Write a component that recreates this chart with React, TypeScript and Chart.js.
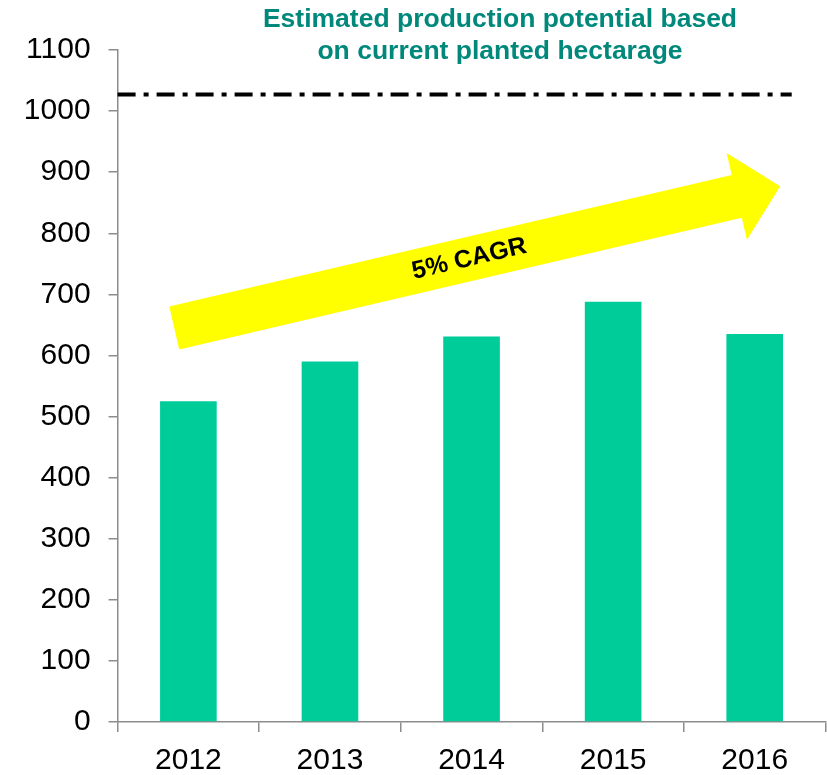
import React, { useEffect, useRef } from 'react';
import { Chart, registerables } from 'chart.js';

Chart.register(...registerables);

// ---- data ----
const categories = ['2012', '2013', '2014', '2015', '2016'];
const production = [525, 590, 631, 688, 635];
const potentialLevel = 1027;
const yMin = 0;
const yMax = 1100;
const yStep = 100;
const titleLines = ['Estimated production potential based', 'on current planted hectarage'];
const cagrLabel = '5% CAGR';
// arrow anchored in data space: [category index, value]
const arrowStart = [-0.1, 645];
const arrowEnd = [4.18, 877];

const FONT = "'Liberation Sans', Arial, sans-serif";

const overlay = {
  id: 'overlay',
  afterDatasetsDraw(chart: any) {
    const { ctx, chartArea, scales } = chart;
    const x = scales.x;
    const y = scales.y;
    ctx.save();
    // dash-dot potential line
    const yy = y.getPixelForValue(potentialLevel);
    ctx.strokeStyle = '#000000';
    ctx.lineWidth = 4;
    ctx.setLineDash([18, 8, 5, 8]);
    ctx.beginPath();
    ctx.moveTo(chartArea.left, yy);
    ctx.lineTo(x.getPixelForValue(categories.length - 1) + 37, yy);
    ctx.stroke();
    ctx.setLineDash([]);

    // CAGR arrow
    const x0 = x.getPixelForValue(arrowStart[0]);
    const y0 = y.getPixelForValue(arrowStart[1]);
    const x1 = x.getPixelForValue(arrowEnd[0]);
    const y1 = y.getPixelForValue(arrowEnd[1]);
    const ang = Math.atan2(y1 - y0, x1 - x0);
    const L = Math.hypot(x1 - x0, y1 - y0);
    const sh = 22;
    const hh = 44.5;
    const hl = 44.6;
    ctx.translate(x0, y0);
    ctx.rotate(ang);
    ctx.fillStyle = '#FFFF00';
    ctx.beginPath();
    ctx.moveTo(0, -sh);
    ctx.lineTo(L - hl, -sh);
    ctx.lineTo(L - hl, -hh);
    ctx.lineTo(L, 0);
    ctx.lineTo(L - hl, hh);
    ctx.lineTo(L - hl, sh);
    ctx.lineTo(0, sh);
    ctx.closePath();
    ctx.fill();
    ctx.fillStyle = '#000000';
    ctx.font = `bold 25px ${FONT}`;
    ctx.textAlign = 'center';
    ctx.textBaseline = 'middle';
    ctx.fillText(cagrLabel, L * 0.487, 0);
    ctx.restore();
  },
  afterDraw(chart: any) {
    const { ctx } = chart;
    ctx.save();
    ctx.fillStyle = '#00897B';
    ctx.font = `bold 26.5px ${FONT}`;
    ctx.textAlign = 'center';
    ctx.textBaseline = 'middle';
    titleLines.forEach((t, i) => ctx.fillText(t, 500, 20 + i * 32));
    ctx.restore();
  },
};

export default function App() {
  const ref = useRef<HTMLCanvasElement>(null);
  useEffect(() => {
    if (!ref.current) return;
    const axisColor = '#8c8c8c';
    const chart = new Chart(ref.current, {
      type: 'bar',
      data: {
        labels: categories,
        datasets: [
          {
            data: production,
            backgroundColor: '#00CC99',
            borderWidth: 0,
            categoryPercentage: 1,
            barPercentage: 0.4,
          },
        ],
      },
      options: {
        responsive: false,
        animation: false,
        devicePixelRatio: 1,
        layout: { padding: { top: 50, right: 1.5, left: 0, bottom: 0 } },
        plugins: { legend: { display: false }, tooltip: { enabled: false }, title: { display: false } },
        scales: {
          x: {
            grid: {
              display: true,
              drawOnChartArea: false,
              drawTicks: true,
              tickLength: 10,
              color: axisColor,
              lineWidth: 1.5,
              offset: true,
            },
            border: { color: axisColor, width: 1.5 },
            ticks: { font: { family: FONT, size: 30 }, color: '#000000', padding: 11 },
            afterFit: (s: any) => {
              s.height = 53;
            },
          },
          y: {
            min: yMin,
            max: yMax,
            grid: {
              display: true,
              drawOnChartArea: false,
              drawTicks: true,
              tickLength: 9,
              color: axisColor,
              lineWidth: 1.5,
            },
            border: { color: axisColor, width: 1.5 },
            ticks: {
              stepSize: yStep,
              font: { family: FONT, size: 30 },
              color: '#000000',
              padding: 18,
              callback: (v: any) => String(v),
            },
            afterFit: (s: any) => {
              s.width = 117.6;
            },
          },
        },
      },
      plugins: [overlay],
    });
    return () => chart.destroy();
  }, []);
  return (
    <div style={{ position: 'absolute', left: 0, top: 0, width: 827, height: 775, overflow: 'hidden', background: '#fff' }}>
      <canvas ref={ref} width={827} height={775} style={{ display: 'block' }} />
    </div>
  );
}
